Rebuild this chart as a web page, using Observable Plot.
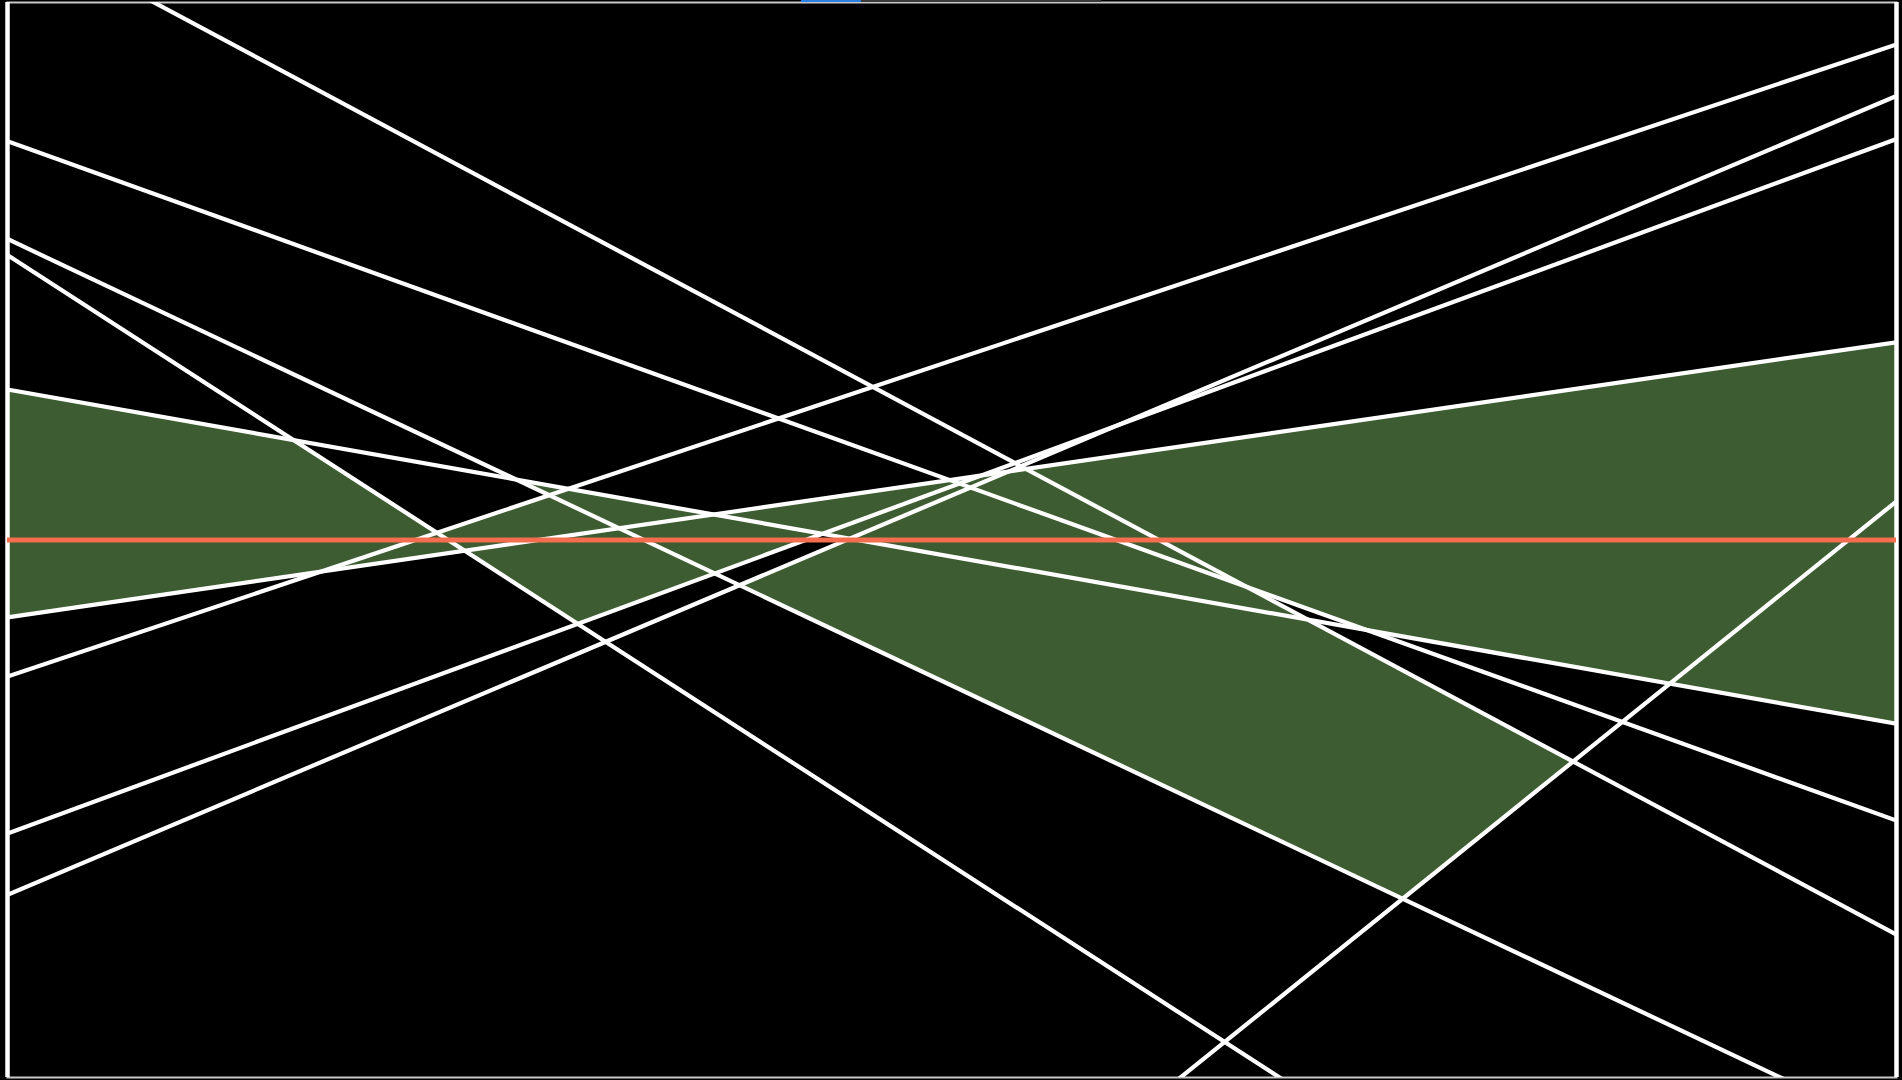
<!DOCTYPE html>
<html>
<head>
<meta charset="utf-8">
<script src="https://cdn.jsdelivr.net/npm/d3@7"></script>
<script src="https://cdn.jsdelivr.net/npm/@observablehq/plot@0.6"></script>
<style>
  html, body { margin: 0; padding: 0; background: #000; overflow: hidden; }
  #chart { position: relative; width: 1902px; height: 1080px; }
  #bar { position: absolute; top: 0; left: 801px; height: 2px; width: 300px; display: flex; z-index: 2; }
  #bar .on { width: 60px; background: #2b7fe3; }
  #bar .off { width: 240px; background: #3a3a3a; }
</style>
</head>
<body>
<div id="chart"><div id="bar"><div class="on"></div><div class="off"></div></div></div>
<script>
// constraint lines, y at the left (x = 0) and right (x = 10) edge
const lineNames  = ["A", "B", "C", "D", "E", "F", "G", "H", "I", "J"]
const lineLeftY  = [10.73, 8.71, 7.80, 7.65, 6.40, 4.28, 3.73, 2.27, 1.70, -8.78]
const lineRightY = [1.33, 2.39, -0.51, -3.71, 3.29, 6.84, 9.61, 8.73, 9.13, 5.36]
const xBounds = [0, 10]
const yBounds = [0, 10]
const objectiveY = 5

// shaded pieces, each one given by its boundary lines in order
const greenPieces = [
  ["x0", "E", "D", "F"],
  ["G", "C", "H", "D"],
  ["F", "E", "H", "C"],
  ["F", "x10", "E"],
  ["E", "A", "J", "C"]
]
const holePieces = [
  ["A", "B", "E"],
  ["H", "E", "I", "C"]
]

const lines = lineNames.map((name, i) => ({
  name,
  y1: lineLeftY[i],
  y2: lineRightY[i],
  a: lineLeftY[i],
  b: (lineRightY[i] - lineLeftY[i]) / (xBounds[1] - xBounds[0])
}))
const byName = new Map(lines.map(d => [d.name, d]))
byName.set("x0", {vx: xBounds[0]})
byName.set("x10", {vx: xBounds[1]})

function meet(p, q) {
  if (p.vx !== undefined) return [p.vx, q.a + q.b * p.vx]
  if (q.vx !== undefined) return [q.vx, p.a + p.b * q.vx]
  const x = (q.a - p.a) / (p.b - q.b)
  return [x, p.a + p.b * x]
}

function toRows(pieces) {
  const rows = []
  pieces.forEach((edges, k) => {
    edges.forEach((e, i) => {
      const [x, y] = meet(byName.get(e), byName.get(edges[(i + 1) % edges.length]))
      rows.push({piece: k, x, y})
    })
  })
  return rows
}

const greenRows = toRows(greenPieces)
const holeRows = toRows(holePieces)

let chart = Plot.plot({
  width: 1902,
  height: 1080,
  marginLeft: 7,
  marginRight: 6,
  marginTop: 2,
  marginBottom: 3,
  x: {domain: xBounds, axis: null},
  y: {domain: yBounds, axis: null},
  style: {background: "#000"},
  marks: [
    Plot.line(greenRows, {x: "x", y: "y", z: "piece", fill: "#3e5c32", stroke: "none", clip: true}),
    Plot.line(holeRows, {x: "x", y: "y", z: "piece", fill: "#000", stroke: "none", clip: true}),
    Plot.frame({stroke: "#c8c8c8", strokeWidth: 2}),
    Plot.link(lines, {x1: xBounds[0], x2: xBounds[1], y1: "y1", y2: "y2", stroke: "#fff", strokeWidth: 4.2, clip: true}),
    Plot.ruleX(xBounds, {stroke: "#fff", strokeWidth: 4.5}),
    Plot.ruleY([objectiveY], {stroke: "#f46d4f", strokeWidth: 5})
  ]
})

d3.select('#chart').append(() => chart)
</script>
</body>
</html>
